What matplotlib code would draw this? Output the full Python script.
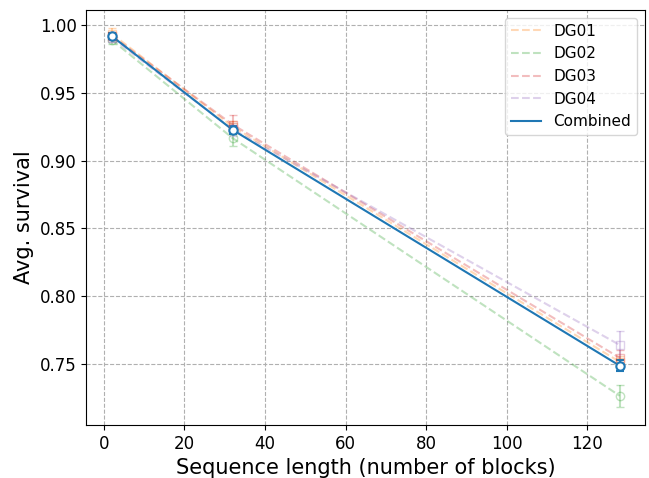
import numpy as np
import matplotlib
matplotlib.use('Agg')
import matplotlib.pyplot as plt

# Sequence lengths
lengths = np.array([2, 32, 128])

# Average survival per device group
dg01 = np.array([0.9935, 0.9250, 0.7515])
dg01_err = np.array([0.004, 0.004, 0.004])
dg02 = np.array([0.9890, 0.9165, 0.7265])
dg02_err = np.array([0.003, 0.006, 0.008])
dg03 = np.array([0.9920, 0.9265, 0.7545])
dg03_err = np.array([0.003, 0.007, 0.006])
dg04 = np.array([0.9905, 0.9230, 0.7640])
dg04_err = np.array([0.003, 0.005, 0.010])
combined = np.array([0.9918, 0.9226, 0.7487])
combined_err = np.array([0.002, 0.003, 0.004])

labels = ['DG01', 'DG02', 'DG03', 'DG04']
series = [dg01, dg02, dg03, dg04]
errors = [dg01_err, dg02_err, dg03_err, dg04_err]
colors = ['tab:orange', 'tab:green', 'tab:red', 'tab:purple']
markers = ['s', 'o', 's', 's']

fig, ax = plt.subplots(figsize=(6.49, 4.78), dpi=100)

for lab, y, e, c, m in zip(labels, series, errors, colors, markers):
    ax.plot(lengths, y, color=c, ls='--', alpha=0.3, label=lab)
    ax.errorbar(lengths, y, yerr=e, color=c, ls='none', marker=m, mfc='none',
                ms=6, capsize=3, alpha=0.3)

ax.plot(lengths, combined, color='tab:blue', ls='-', lw=1.5, label='Combined')
ax.errorbar(lengths, combined, yerr=combined_err, color='tab:blue', ls='none',
            marker='o', mfc='white', ms=6, mew=1.5, capsize=3)

ax.grid(True, ls='--', color='#b0b0b0')
ax.set_ylim(0.705, 1.011)
ax.set_xlabel('Sequence length (number of blocks)', fontsize=15)
ax.set_ylabel('Avg. survival', fontsize=15)
ax.tick_params(labelsize=12)
ax.legend(fontsize=11, loc='upper right')

fig.subplots_adjust(left=0.133, right=0.994, top=0.979, bottom=0.111)
fig.savefig('out.png', dpi=100)
